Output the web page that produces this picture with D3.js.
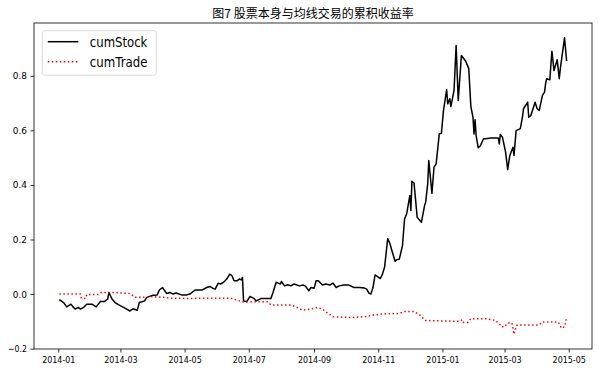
<!DOCTYPE html>
<html>
<head>
<meta charset="utf-8">
<script src="https://cdn.jsdelivr.net/npm/d3@7"></script>
<style>
  body { margin: 0; background: #fff; }
  svg { display: block; }
</style>
</head>
<body>
<div id="chart"></div>
<script>

// cumulative returns

let stockDates = ["2014-01-02","2014-01-06","2014-01-09","2014-01-13","2014-01-15","2014-01-17","2014-01-20","2014-01-22","2014-01-25","2014-01-28",
  "2014-02-02","2014-02-06","2014-02-10","2014-02-14","2014-02-17","2014-02-18","2014-02-21","2014-02-24","2014-02-27","2014-03-04",
  "2014-03-07","2014-03-10","2014-03-13","2014-03-17","2014-03-19","2014-03-24","2014-03-26","2014-04-01","2014-04-05","2014-04-07",
  "2014-04-10","2014-04-11","2014-04-14","2014-04-17","2014-04-20","2014-04-23","2014-04-28","2014-05-03","2014-05-06","2014-05-11",
  "2014-05-18","2014-05-22","2014-05-25","2014-05-28","2014-05-30","2014-06-02","2014-06-04","2014-06-07","2014-06-10","2014-06-13",
  "2014-06-15","2014-06-17","2014-06-20","2014-06-22","2014-06-24","2014-06-25","2014-06-26","2014-06-29","2014-07-02","2014-07-06",
  "2014-07-08","2014-07-13","2014-07-22","2014-07-24","2014-07-27","2014-07-31","2014-08-01","2014-08-04","2014-08-07","2014-08-10",
  "2014-08-13","2014-08-18","2014-08-22","2014-08-24","2014-08-27","2014-08-29","2014-09-01","2014-09-03","2014-09-05","2014-09-09",
  "2014-09-12","2014-09-16","2014-09-19","2014-09-22","2014-09-25","2014-09-29","2014-10-04","2014-10-09","2014-10-14","2014-10-19",
  "2014-10-21","2014-10-23","2014-10-25","2014-10-27","2014-10-29","2014-10-31","2014-11-03","2014-11-05","2014-11-07","2014-11-10",
  "2014-11-12","2014-11-14","2014-11-17","2014-11-19","2014-11-21","2014-11-24","2014-11-26","2014-11-28","2014-12-01","2014-12-02",
  "2014-12-03","2014-12-05","2014-12-08","2014-12-10","2014-12-12","2014-12-15","2014-12-16","2014-12-18","2014-12-19","2014-12-22",
  "2014-12-24","2014-12-26","2014-12-29","2014-12-31","2015-01-02","2015-01-05","2015-01-06","2015-01-08","2015-01-09","2015-01-12",
  "2015-01-14","2015-01-16","2015-01-19","2015-01-23","2015-01-26","2015-01-28","2015-01-30","2015-01-31","2015-02-01","2015-02-02",
  "2015-02-04","2015-02-06","2015-02-09","2015-02-11","2015-02-16","2015-02-23","2015-02-24","2015-02-25","2015-02-27","2015-03-02",
  "2015-03-04","2015-03-06","2015-03-09","2015-03-10","2015-03-12","2015-03-16","2015-03-18","2015-03-19","2015-03-23","2015-03-24",
  "2015-03-26","2015-03-30","2015-04-01","2015-04-03","2015-04-06","2015-04-08","2015-04-09","2015-04-10","2015-04-13","2015-04-15",
  "2015-04-17","2015-04-20","2015-04-22","2015-04-23","2015-04-27","2015-04-29"]

let stockValues = [-0.020,-0.031,-0.047,-0.037,-0.047,-0.055,-0.049,-0.055,-0.049,-0.037,
  -0.037,-0.047,-0.027,-0.027,-0.018,0.006,-0.018,-0.031,-0.039,-0.049,
  -0.055,-0.062,-0.054,-0.059,-0.031,-0.025,-0.012,-0.004,-0.003,0.015,
  0.024,0.018,0.002,0.006,0.000,0.004,-0.003,-0.003,0.000,0.015,
  0.015,0.024,0.028,0.021,0.018,0.040,0.037,0.043,0.055,0.073,
  0.067,0.049,0.049,0.055,0.052,0.061,-0.025,-0.028,-0.009,-0.016,
  -0.025,-0.016,-0.016,0.006,0.043,0.037,0.046,0.030,0.034,0.030,
  0.037,0.030,0.033,0.028,0.012,0.024,0.021,0.049,0.049,0.033,
  0.037,0.033,0.040,0.024,0.030,0.033,0.033,0.024,0.024,0.022,
  0.018,0.004,0.000,0.024,0.070,0.065,0.057,0.073,0.098,0.203,
  0.186,0.159,0.120,0.127,0.128,0.177,0.275,0.294,0.361,0.306,
  0.413,0.407,0.281,0.272,0.263,0.324,0.336,0.404,0.489,0.369,
  0.465,0.477,0.587,0.589,0.673,0.749,0.697,0.716,0.687,0.746,
  0.911,0.709,0.874,0.854,0.826,0.687,0.648,0.587,0.639,0.581,
  0.536,0.543,0.569,0.569,0.572,0.572,0.550,0.585,0.575,0.520,
  0.456,0.508,0.538,0.508,0.599,0.606,0.648,0.679,0.703,0.648,
  0.654,0.703,0.679,0.673,0.728,0.740,0.771,0.789,0.785,0.890,
  0.819,0.859,0.789,0.826,0.939,0.854]

let tradeDates = ["2014-01-02","2014-01-20","2014-01-22","2014-01-23","2014-01-27","2014-01-28","2014-02-08","2014-02-11","2014-02-24","2014-03-01",
  "2014-03-10","2014-03-15","2014-03-23","2014-03-29","2014-04-11","2014-04-17","2014-05-03","2014-06-14","2014-06-22","2014-06-25",
  "2014-07-19","2014-07-22","2014-08-10","2014-08-16","2014-08-21","2014-08-29","2014-09-04","2014-09-09","2014-09-14","2014-09-19",
  "2014-10-06","2014-10-19","2014-10-27","2014-11-05","2014-11-21","2014-11-26","2014-12-05","2014-12-10","2014-12-16","2015-01-17",
  "2015-01-20","2015-01-21","2015-01-25","2015-01-28","2015-02-11","2015-02-20","2015-02-24","2015-02-26","2015-03-01","2015-03-04",
  "2015-03-08","2015-03-10","2015-03-12","2015-03-13","2015-04-03","2015-04-06","2015-04-21","2015-04-24","2015-04-27","2015-04-29"]

let tradeValues = [0.000,0.000,0.000,-0.016,-0.016,-0.002,-0.002,0.006,0.006,0.004,
  0.002,-0.012,-0.012,-0.009,-0.012,-0.015,-0.016,-0.015,-0.025,-0.028,
  -0.028,-0.040,-0.040,-0.049,-0.059,-0.055,-0.049,-0.055,-0.070,-0.083,
  -0.086,-0.083,-0.077,-0.073,-0.071,-0.064,-0.064,-0.075,-0.097,-0.100,
  -0.094,-0.104,-0.104,-0.090,-0.090,-0.096,-0.108,-0.120,-0.120,-0.106,
  -0.106,-0.147,-0.120,-0.113,-0.113,-0.102,-0.102,-0.125,-0.120,-0.086]

let xTicks = ["2014-01-01","2014-03-01","2014-05-01","2014-07-01","2014-09-01","2014-11-01","2015-01-01","2015-03-01","2015-05-01"]
let yTicks = [-0.2, 0.0, 0.2, 0.4, 0.6, 0.8]
let seriesNames = ["cumStock", "cumTrade"]
let titleText = "图7 股票本身与均线交易的累积收益率"


let width = 599, height = 371
let margin = {top: 23, right: 7, bottom: 22, left: 34}
let iw = width - margin.left - margin.right
let ih = height - margin.top - margin.bottom

let parse = d3.utcParse("%Y-%m-%d")
let stock = stockDates.map((d, i) => ({date: parse(d), v: stockValues[i]}))
let trade = tradeDates.map((d, i) => ({date: parse(d), v: tradeValues[i]}))

let svg = d3.select("#chart").append("svg")
            .attr("width", width)
            .attr("height", height)

let g = svg.append("g").attr("transform", `translate(${margin.left},${margin.top})`)

// matplotlib-like 5% margins
let xExt = d3.extent(stock.concat(trade), d => d.date)
let xPad = (xExt[1] - xExt[0]) * 0.05
let x = d3.scaleUtc()
          .domain([new Date(+xExt[0] - xPad), new Date(+xExt[1] + xPad)])
          .range([0, iw])

let yExt = d3.extent(stockValues.concat(tradeValues))
let yPad = (yExt[1] - yExt[0]) * 0.05
let y = d3.scaleLinear()
          .domain([yExt[0] - yPad, yExt[1] + yPad])
          .range([ih, 0])

let tickFont = "'DejaVu Sans', sans-serif"

function squeeze(sel, fs) {
  // narrow glyphs like the original Hei face
  sel.attr("font-size", fs)
     .attr("font-family", tickFont)
     .attr("fill", "#000")
     .each(function() {
        let t = d3.select(this)
        t.attr("textLength", t.text().length * fs * 0.5)
         .attr("lengthAdjust", "spacingAndGlyphs")
     })
}

let xAxis = g.append("g")
             .attr("transform", `translate(0,${ih})`)
             .call(d3.axisBottom(x)
                     .tickValues(xTicks.map(parse))
                     .tickFormat(d3.utcFormat("%Y-%m"))
                     .tickSize(3.5)
                     .tickPadding(3.5))
xAxis.select(".domain").remove()
xAxis.selectAll(".tick line").attr("stroke", "#000").attr("stroke-width", 0.8)
xAxis.selectAll(".tick text").call(squeeze, 9.5)

let yAxis = g.append("g")
             .call(d3.axisLeft(y)
                     .tickValues(yTicks)
                     .tickFormat(d3.format(".1f"))
                     .tickSize(3.5)
                     .tickPadding(3.5))
yAxis.select(".domain").remove()
yAxis.selectAll(".tick line").attr("stroke", "#000").attr("stroke-width", 0.8)
yAxis.selectAll(".tick text").call(squeeze, 9.5)

let line = d3.line()
             .x(d => x(d.date))
             .y(d => y(d.v))

g.append("path")
 .datum(stock)
 .attr("d", line)
 .attr("fill", "none")
 .attr("stroke", "#000")
 .attr("stroke-width", 1.5)
 .attr("stroke-linejoin", "round")

g.append("path")
 .datum(trade)
 .attr("d", line)
 .attr("fill", "none")
 .attr("stroke", "#ff0000")
 .attr("stroke-width", 1.5)
 .attr("stroke-dasharray", "1.5,2.5")

// frame
g.append("rect")
 .attr("width", iw)
 .attr("height", ih)
 .attr("fill", "none")
 .attr("stroke", "#000")
 .attr("stroke-width", 0.8)

svg.append("text")
   .attr("x", margin.left + iw / 2)
   .attr("y", 18)
   .attr("text-anchor", "middle")
   .attr("font-family", "'Noto Sans CJK SC', sans-serif")
   .attr("font-size", 12)
   .text(titleText)

// legend
let leg = g.append("g").attr("transform", "translate(8.3,7.7)")
leg.append("rect")
   .attr("width", 114)
   .attr("height", 44.5)
   .attr("rx", 2.5)
   .attr("fill", "#fff")
   .attr("fill-opacity", 0.8)
   .attr("stroke", "#d0d0d0")
   .attr("stroke-width", 0.8)

let legStyles = [{stroke: "#000", dash: null}, {stroke: "#ff0000", dash: "1.5,2.5"}]
seriesNames.forEach((name, i) => {
  let ly = 11 + i * 20
  leg.append("line")
     .attr("x1", 5.5).attr("x2", 36)
     .attr("y1", ly).attr("y2", ly)
     .attr("stroke", legStyles[i].stroke)
     .attr("stroke-width", 1.5)
     .attr("stroke-dasharray", legStyles[i].dash)
  leg.append("text")
     .attr("x", 47.5)
     .attr("y", ly + 5)
     .text(name)
     .call(squeeze, 14.4)
})

</script>
</body>
</html>
